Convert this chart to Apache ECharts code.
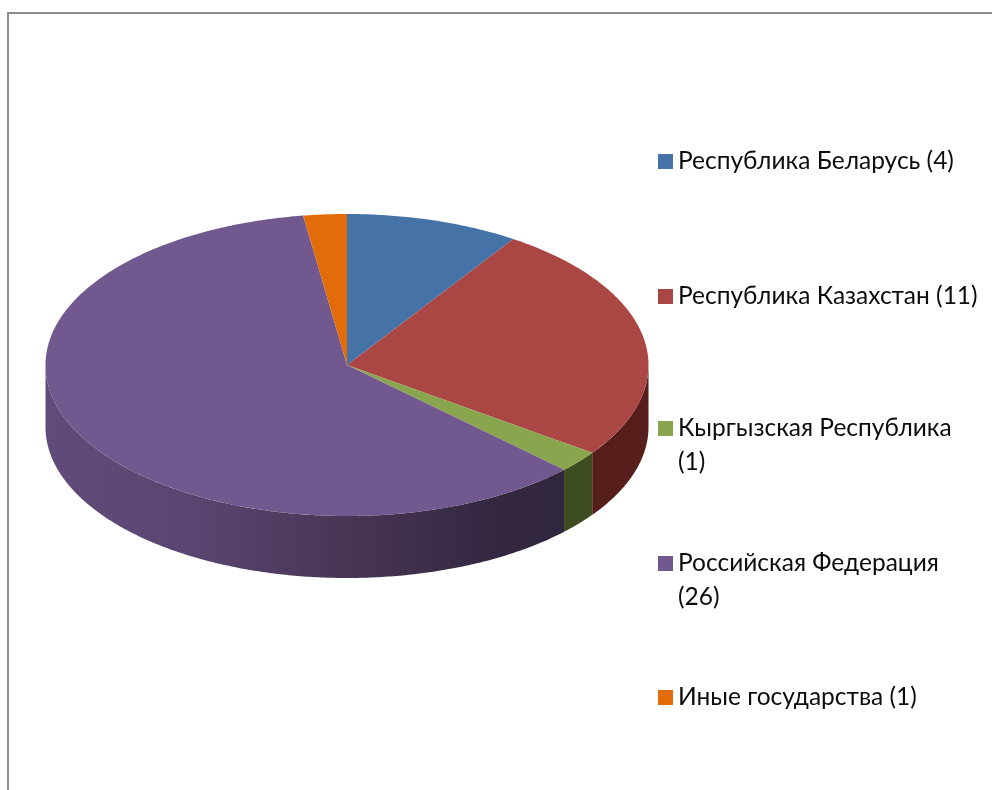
<!DOCTYPE html>
<html lang="ru">
  <head>
    <meta charset="UTF-8" />
    <title>Государства</title>
    <style>
      body {
        margin: 0;
      }
      #main {
        width: 992px;
        height: 790px;
        background-color: #fff;
      }
    </style>
  </head>
  <body>
    <div id="main"></div>
    <script src="https://cdn.jsdelivr.net/npm/echarts@6/dist/echarts.min.js"></script>
    <script>
      const categories = [
        "Республика Беларусь",
        "Республика Казахстан",
        "Кыргызская Республика",
        "Российская Федерация",
        "Иные государства",
      ];
      const values = [4, 11, 1, 26, 1];
      // подпись значения уходит на вторую строку
      const wrapped = [false, false, true, true, false];

      const topColors = ["#4573a7", "#aa4644", "#89a54e", "#71588f", "#e36c0a"];
      // боковая стенка: цвет слева направо
      const sideColors = [
        ["#2a4565", "#2a4565"],
        ["#4a1b18", "#561f1c"],
        ["#3d4d20", "#3d4d20"],
        ["#614b7b", "#5a4570", "#473555", "#332840", "#2c2339"],
        ["#8a4206", "#8a4206"],
      ];

      const cx = 347;
      const cy = 365;
      const rx = 301.5;
      const ry = 151;
      const depth = 62;
      const legendTops = [149, 284, 416, 551, 685];
      const legendFont = { fontFamily: "Lato", fontSize: 24.5, color: "#0d0d0d" };

      const total = values.reduce((a, b) => a + b, 0);

      // угол по часовой от верхней точки эллипса
      function rim(angle, dy) {
        return [cx + rx * Math.sin(angle), cy - ry * Math.cos(angle) + dy];
      }

      function arc(a0, a1, dy) {
        const n = Math.max(2, Math.ceil(Math.abs(a1 - a0) / 0.01));
        const pts = [];
        for (let i = 0; i <= n; i++) {
          pts.push(rim(a0 + ((a1 - a0) * i) / n, dy));
        }
        return pts;
      }

      function renderSlice(i) {
        return function (params, api) {
          const a0 = (api.value(0) / total) * Math.PI * 2;
          const a1 = ((api.value(0) + api.value(1)) / total) * Math.PI * 2;
          const children = [];

          // видна только передняя половина стенки
          const s0 = Math.max(a0, Math.PI / 2);
          const s1 = Math.min(a1, (Math.PI * 3) / 2);
          if (s1 > s0) {
            const stops = sideColors[i];
            children.push({
              type: "polygon",
              shape: { points: arc(s0, s1, 0).concat(arc(s1, s0, depth)) },
              style: {
                fill: new echarts.graphic.LinearGradient(
                  cx - rx,
                  0,
                  cx + rx,
                  0,
                  stops.map((c, k) => ({
                    offset: k / (stops.length - 1),
                    color: c,
                  })),
                  true
                ),
              },
            });
          }

          children.push({
            type: "polygon",
            shape: { points: [[cx, cy]].concat(arc(a0, a1, 0)) },
            style: { fill: topColors[i] },
          });
          return { type: "group", children };
        };
      }

      let running = 0;
      const series = categories.map((name, i) => {
        const start = running;
        running += values[i];
        return {
          name,
          type: "custom",
          coordinateSystem: "none",
          silent: true,
          animation: false,
          itemStyle: { color: topColors[i] },
          data: [[start, values[i]]],
          renderItem: renderSlice(i),
        };
      });

      const legend = categories.map((name, i) => ({
        data: [name],
        orient: "vertical",
        left: 658,
        top: legendTops[i],
        padding: 0,
        itemWidth: 15,
        itemHeight: 15,
        icon: "rect",
        selectedMode: false,
        textStyle: legendFont,
        formatter: (n) => (wrapped[i] ? n : n + " (" + values[i] + ")"),
      }));

      const secondLines = categories
        .map((name, i) => ({
          type: "text",
          left: 678,
          top: legendTops[i] + 34,
          silent: true,
          style: {
            text: "(" + values[i] + ")",
            fontFamily: legendFont.fontFamily,
            fontSize: legendFont.fontSize,
            fill: legendFont.color,
          },
        }))
        .filter((_, i) => wrapped[i]);

      const myChart = echarts.init(document.getElementById("main"));
      myChart.setOption({
        animation: false,
        legend,
        graphic: [
          {
            type: "rect",
            silent: true,
            shape: { x: 8, y: 13, width: 1000, height: 800 },
            style: { fill: "none", stroke: "#8c8c8c", lineWidth: 2 },
          },
          ...secondLines,
        ],
        series,
      });
    </script>
  </body>
</html>
